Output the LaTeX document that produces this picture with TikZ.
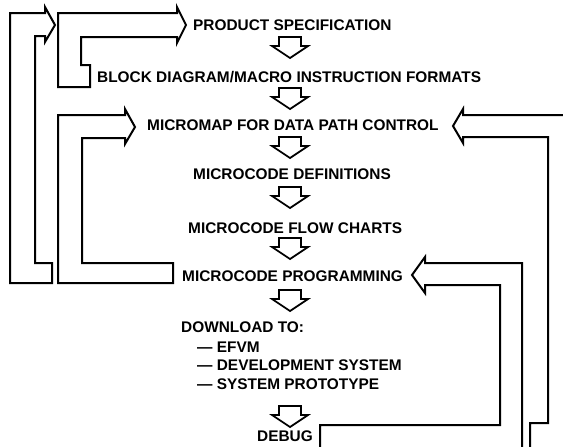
\documentclass[tikz,border=0pt]{standalone}
\usepackage{fontspec}
\setmainfont{Liberation Sans}
\begin{document}
\begin{tikzpicture}[x=1pt,y=-1pt,
  lbl/.style={anchor=base west, inner sep=0pt, font=\fontsize{15.4}{18}\selectfont\bfseries},
  outline/.style={draw=black, line width=2pt, line join=miter},
  darrow/.pic={\draw[outline, line width=1.8pt] (-11,0) -- (11,0) -- (11,9) -- (18,9) -- (0,21) -- (-18,9) -- (-11,9) -- cycle;}]
\useasboundingbox (0,0) rectangle (563,447);
\clip (0,0) rectangle (563,447);

% texts
\node[lbl] (ps)  at (193,30.5)  {PRODUCT SPECIFICATION};
\node[lbl] (bd)  at (97,82.5)   {BLOCK DIAGRAM/MACRO INSTRUCTION FORMATS};
\node[lbl] (mm)  at (147,130.5) {MICROMAP FOR DATA PATH CONTROL};
\node[lbl] (md)  at (193,179.5) {MICROCODE DEFINITIONS};
\node[lbl] (mf)  at (188,233.5) {MICROCODE FLOW CHARTS};
\node[lbl] (mp)  at (182,281.5) {MICROCODE PROGRAMMING};
\node[lbl] (dl)  at (181,332.5) {DOWNLOAD TO:};
\node[lbl] (d1)  at (197,352.5) {--- EFVM};
\node[lbl] (d2)  at (197,370.5) {--- DEVELOPMENT SYSTEM};
\node[lbl] (d3)  at (197,389.5) {--- SYSTEM PROTOTYPE};
\node[lbl] (db)  at (257,441.5) {DEBUG};

% small down arrows
\pic at (290,37)  {darrow};
\pic at (290,88)  {darrow};
\pic at (290,137) {darrow};
\pic at (290,187) {darrow};
\pic at (290,238) {darrow};
\pic at (290,290) {darrow};
\pic at (290,406) {darrow};

% loop A (outermost left)
\draw[outline] (10,13) -- (45,13) -- (45,7) -- (55,25) -- (45,42) -- (45,36) -- (35,36)
  -- (35,263) -- (52,263) -- (52,283) -- (10,283) -- cycle;
% loop B
\draw[outline] (58,13) -- (177,13) -- (177,7) -- (186,25) -- (177,43) -- (177,37) -- (81,37)
  -- (81,65) -- (90,65) -- (90,87) -- (58,87) -- cycle;
% loop C
\draw[outline] (58,115) -- (125,115) -- (125,109) -- (135,127) -- (125,144) -- (125,138) -- (82,138)
  -- (82,263) -- (173,263) -- (173,283) -- (58,283) -- cycle;
% loop D (outer right)
\draw[outline] (570,115) -- (463,115) -- (463,109) -- (453,126) -- (463,143) -- (463,137) -- (548,137)
  -- (548,423) -- (530,423) -- (530,460);
% loop E
\draw[outline] (522,460) -- (522,263) -- (425,263) -- (425,257) -- (412,275) -- (425,293) -- (425,285)
  -- (500,285) -- (500,425) -- (320,425) -- (320,460);
\end{tikzpicture}
\end{document}
